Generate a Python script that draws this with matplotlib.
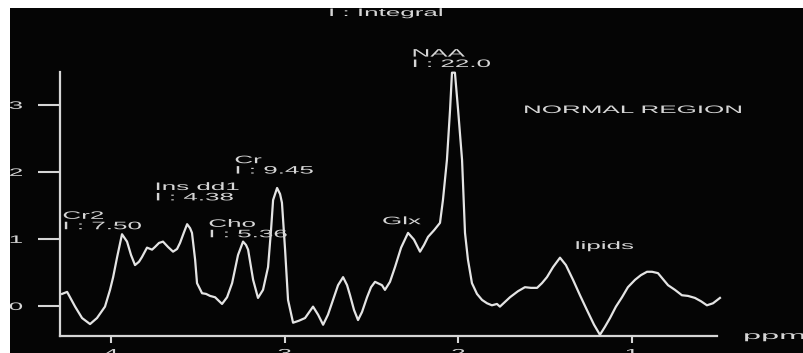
import matplotlib
matplotlib.use("Agg")
import matplotlib.pyplot as plt
from matplotlib import patheffects
from matplotlib.patches import Rectangle
from matplotlib.transforms import Affine2D

# spectrum (ppm decreasing left -> right)
ppm = [4.282, 4.253, 4.207, 4.167, 4.121, 4.081, 4.035, 4.006, 3.988, 3.965,
       3.937, 3.908, 3.885, 3.862, 3.839, 3.822, 3.793, 3.764, 3.747, 3.724,
       3.701, 3.672, 3.643, 3.620, 3.603, 3.580, 3.562, 3.545, 3.534, 3.516,
       3.505, 3.476, 3.453, 3.430, 3.401, 3.361, 3.332, 3.303, 3.269, 3.240,
       3.223, 3.211, 3.182, 3.154, 3.125, 3.096, 3.079, 3.067, 3.044, 3.027,
       3.016, 2.998, 2.981, 2.952, 2.918, 2.883, 2.837, 2.808, 2.779, 2.751,
       2.722, 2.693, 2.664, 2.641, 2.624, 2.601, 2.578, 2.555, 2.526, 2.503,
       2.480, 2.440, 2.423, 2.394, 2.365, 2.330, 2.290, 2.256, 2.221, 2.198,
       2.175, 2.140, 2.106, 2.089, 2.066, 2.048, 2.037, 2.020, 2.002, 1.979,
       1.962, 1.945, 1.922, 1.893, 1.864, 1.835, 1.807, 1.778, 1.761, 1.732,
       1.703, 1.657, 1.617, 1.582, 1.547, 1.519, 1.490, 1.455, 1.415, 1.381,
       1.340, 1.300, 1.260, 1.219, 1.185, 1.156, 1.127, 1.093, 1.058, 1.024,
       0.983, 0.949, 0.914, 0.885, 0.851, 0.822, 0.793, 0.753, 0.713, 0.678,
       0.638, 0.603, 0.569, 0.534, 0.494]
signal = [0.18, 0.21, -0.01, -0.18, -0.27, -0.18, -0.01, 0.24, 0.43, 0.73,
          1.07, 0.96, 0.76, 0.61, 0.66, 0.73, 0.87, 0.84, 0.88, 0.94,
          0.96, 0.88, 0.81, 0.85, 0.94, 1.10, 1.22, 1.16, 1.09, 0.69,
          0.34, 0.19, 0.18, 0.15, 0.13, 0.03, 0.13, 0.34, 0.76, 0.96,
          0.91, 0.84, 0.39, 0.12, 0.24, 0.58, 1.13, 1.58, 1.76, 1.67,
          1.54, 0.84, 0.09, -0.25, -0.22, -0.18, -0.01, -0.13, -0.28, -0.13,
          0.09, 0.31, 0.43, 0.31, 0.16, -0.06, -0.21, -0.09, 0.13, 0.28,
          0.36, 0.31, 0.24, 0.36, 0.58, 0.87, 1.09, 0.99, 0.81, 0.91,
          1.03, 1.13, 1.24, 1.58, 2.18, 2.93, 3.48, 3.48, 2.93, 2.18,
          1.09, 0.69, 0.34, 0.18, 0.09, 0.04, 0.01, 0.03, -0.01, 0.06,
          0.13, 0.22, 0.28, 0.27, 0.27, 0.34, 0.43, 0.58, 0.72, 0.61,
          0.39, 0.16, -0.06, -0.28, -0.43, -0.31, -0.18, -0.01, 0.13, 0.28,
          0.39, 0.46, 0.51, 0.51, 0.49, 0.40, 0.31, 0.24, 0.16, 0.15,
          0.12, 0.07, 0.01, 0.04, 0.12]

# peak labels: name, integral, where the label sits (ppm, intensity of first baseline)
peak_names = ["Cr2", "Ins dd1", "Cho", "Cr", "Glx", "NAA", "lipids"]
peak_integrals = ["7.50", "4.38", "5.36", "9.45", None, "22.0", None]
label_pos = [(4.28, 1.30), (3.75, 1.73), (3.44, 1.18), (3.29, 2.13),
             (2.44, 1.22), (2.27, 3.72), (1.33, 0.85)]

xticks = [4, 3, 2, 1]
yticks = [0, 1, 2, 3]

FG = "#d6d6d6"
BG = "#050505"
FS = 7.8     # pt
SX = 2.4     # the scanned text is stretched sideways
LINE = 0.155  # second label line, in intensity units


class Stretch(patheffects.AbstractPathEffect):
    """draw text stretched horizontally about left/center/right"""

    def __init__(self, sx, anchor="left"):
        super().__init__()
        self.sx = sx
        self.anchor = anchor

    def draw_path(self, renderer, gc, tpath, affine, rgbFace=None):
        bb = tpath.get_extents(affine)
        if self.anchor == "left":
            x0 = affine.transform((0, 0))[0]
        elif self.anchor == "right":
            x0 = bb.x1
        else:
            x0 = (bb.x0 + bb.x1) / 2
        st = Affine2D().translate(-x0, 0).scale(self.sx, 1).translate(x0, 0)
        renderer.draw_path(gc, tpath, affine + st, rgbFace)


plt.rcParams["font.family"] = ["Liberation Sans", "DejaVu Sans"]

fig = plt.figure(figsize=(8.04, 3.53), dpi=100, facecolor=BG)
ax = fig.add_axes([60 / 804, 17 / 353, 657 / 804, 264 / 353])
ax.set_facecolor(BG)

ax.plot(ppm, signal, color="#e4e4e4", lw=1.6, clip_on=False, zorder=3)

ax.set_xlim(4.294, 0.511)
ax.set_ylim(-0.448, 3.49)
for s in ["top", "right"]:
    ax.spines[s].set_visible(False)
for s in ["left", "bottom"]:
    ax.spines[s].set_color(FG)
    ax.spines[s].set_linewidth(1.6)

ax.set_xticks(xticks)
ax.set_yticks(yticks)
ax.set_xticklabels([str(t) for t in xticks])
ax.set_yticklabels([str(t) for t in yticks])
ax.tick_params(axis="y", length=16, width=1.5, pad=11, colors=FG, labelsize=FS)
ax.tick_params(axis="x", length=5, width=1.5, pad=4, colors=FG, labelsize=FS)
for t in ax.get_yticklabels():
    t.set_path_effects([Stretch(SX, "right")])
for t in ax.get_xticklabels():
    t.set_path_effects([Stretch(SX, "center")])

st_left = [Stretch(SX, "left")]
for name, integ, (px, py) in zip(peak_names, peak_integrals, label_pos):
    ax.text(px, py, name, color=FG, fontsize=FS, va="baseline", ha="left",
            path_effects=st_left, clip_on=False)
    if integ is not None:
        ax.text(px, py - LINE, "I : " + integ, color=FG, fontsize=FS,
                va="baseline", ha="left", path_effects=st_left, clip_on=False)

fig.text(328 / 804, 1 - 16 / 353, "I : Integral", color=FG, fontsize=FS,
         va="baseline", ha="left", path_effects=st_left)
fig.text(523 / 804, 1 - 113 / 353, "NORMAL REGION", color=FG, fontsize=FS,
         va="baseline", ha="left", path_effects=st_left)
fig.text(743 / 804, 1 - 339 / 353, "ppm", color=FG, fontsize=FS,
         va="baseline", ha="left", path_effects=[Stretch(3.0, "left")])

# white scan border on the left and top
fig.add_artist(Rectangle((0, 0), 10 / 804, 1, transform=fig.transFigure,
                         color="white", lw=0, zorder=10))
fig.add_artist(Rectangle((0, 1 - 8 / 353), 1, 8 / 353, transform=fig.transFigure,
                         color="white", lw=0, zorder=10))

fig.savefig("out.png", dpi=100, facecolor=fig.get_facecolor())
